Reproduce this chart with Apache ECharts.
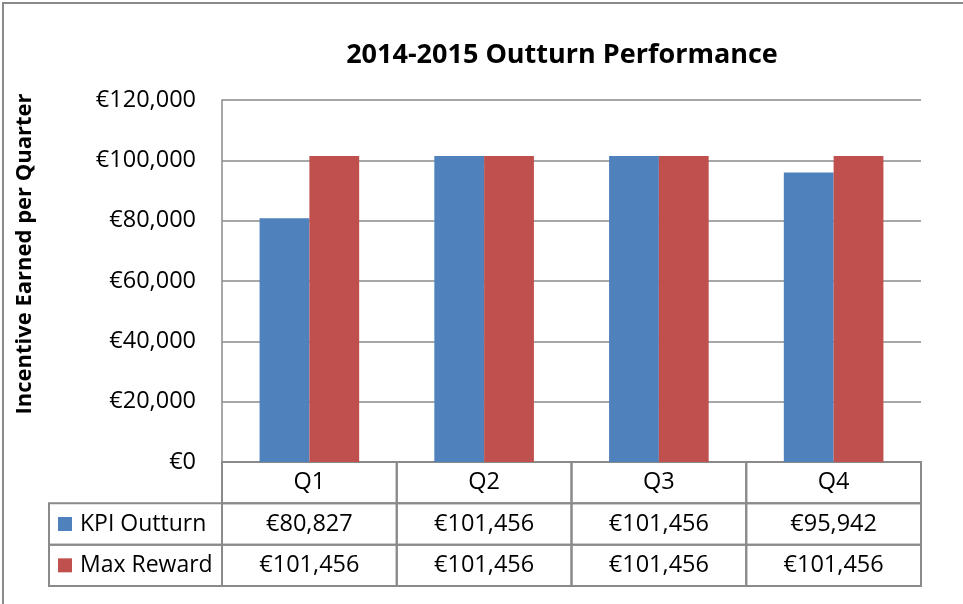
<!DOCTYPE html>
<html>
<head>
<meta charset="utf-8">
<script src="https://cdn.jsdelivr.net/npm/echarts@6/dist/echarts.min.js"></script>
<style>
  html, body { margin: 0; padding: 0; background: #fff; }
  #chart { width: 963px; height: 604px; }
</style>
</head>
<body>
<div id="chart"></div>
<script>
// Quarterly incentive: achieved vs. maximum possible, 2014-2015
const TITLE = "2014-2015 Outturn Performance";
const Y_NAME = "Incentive Earned per Quarter";
const QUARTERS = ["Q1", "Q2", "Q3", "Q4"];
const SERIES_NAMES = ["KPI Outturn", "Max Reward"];
const KPI_OUTTURN = [80827, 101456, 101456, 95942];
const MAX_REWARD = [101456, 101456, 101456, 101456];
const SERIES_COLORS = ["#4f81bd", "#c0504d"];
const Y_MIN = 0;
const Y_MAX = 120000;
const Y_STEP = 20000;

const FONT = "'Open Sans', 'Noto Sans', sans-serif";
const LINE = "#8a8a8a";
const euro = (v) => "€" + Math.round(v).toLocaleString("en-US");

// data table under the plot: row 0 = quarter headers, rows 1..2 = series values
const TABLE_ROWS = ["", ...SERIES_NAMES];
const seriesValues = [KPI_OUTTURN, MAX_REWARD];
const tableCells = [];
QUARTERS.forEach((q, ci) => tableCells.push({ value: [ci, 0], text: q }));
seriesValues.forEach((vals, si) => {
  vals.forEach((v, ci) => tableCells.push({ value: [ci, si + 1], text: euro(v) }));
});
const legendCells = SERIES_NAMES.map((name, si) => ({ value: [0, si + 1], text: name, color: SERIES_COLORS[si] }));

function cellRect(api) {
  const p = api.coord([api.value(0), api.value(1)]);
  const s = api.size([1, 1]);
  return { x: p[0] - s[0] / 2, y: p[1] - s[1] / 2, width: s[0], height: s[1] };
}

const ch = echarts.init(document.getElementById("chart"));

ch.setOption({
  backgroundColor: "#fff",
  animation: false,
  textStyle: { fontFamily: FONT },
  grid: [
    { left: 222, right: 42, top: 100, bottom: 142 },
    { left: 222, right: 42, top: 462, bottom: 18 },
    { left: 49, width: 173, top: 462, bottom: 18 },
  ],
  xAxis: [
    {
      type: "category",
      gridIndex: 0,
      data: QUARTERS,
      axisLine: { lineStyle: { color: LINE, width: 1.5 } },
      axisTick: { show: false },
      axisLabel: { show: false },
    },
    { type: "category", gridIndex: 1, data: QUARTERS, show: false },
    { type: "category", gridIndex: 2, data: [""], show: false },
  ],
  yAxis: [
    {
      type: "value",
      gridIndex: 0,
      min: Y_MIN,
      max: Y_MAX,
      interval: Y_STEP,
      axisLine: { show: true, lineStyle: { color: LINE, width: 1.5 } },
      axisTick: { show: false },
      splitLine: { lineStyle: { color: LINE, width: 1.5 } },
      axisLabel: {
        color: "#000",
        fontSize: 23.5,
        fontFamily: FONT,
        margin: 26,
        formatter: (v) => euro(v),
      },
    },
    { type: "category", gridIndex: 1, data: TABLE_ROWS, inverse: true, show: false },
    { type: "category", gridIndex: 2, data: TABLE_ROWS, inverse: true, show: false },
  ],
  graphic: [
    {
      type: "rect",
      shape: { x: 3, y: 3, width: 1200, height: 900 },
      style: { fill: "none", stroke: LINE, lineWidth: 2 },
      silent: true,
    },
    {
      type: "text",
      x: 562,
      y: 55,
      style: {
        text: TITLE,
        fill: "#000",
        font: "bold 27px " + FONT,
        textAlign: "center",
        textVerticalAlign: "middle",
      },
    },
    {
      type: "text",
      x: 25,
      y: 254,
      rotation: Math.PI / 2,
      style: {
        text: Y_NAME,
        fill: "#000",
        font: "bold 22px " + FONT,
        textAlign: "center",
        textVerticalAlign: "middle",
      },
    },
  ],
  series: [
    {
      name: SERIES_NAMES[0],
      type: "bar",
      xAxisIndex: 0,
      yAxisIndex: 0,
      data: KPI_OUTTURN,
      barWidth: "28.5%",
      barGap: "0%",
      itemStyle: { color: SERIES_COLORS[0] },
    },
    {
      name: SERIES_NAMES[1],
      type: "bar",
      xAxisIndex: 0,
      yAxisIndex: 0,
      data: MAX_REWARD,
      barWidth: "28.5%",
      barGap: "0%",
      itemStyle: { color: SERIES_COLORS[1] },
    },
    {
      type: "custom",
      xAxisIndex: 1,
      yAxisIndex: 1,
      data: tableCells,
      silent: true,
      renderItem: (params, api) => {
        const r = cellRect(api);
        return {
          type: "group",
          children: [
            { type: "rect", shape: r, style: { fill: "none", stroke: LINE, lineWidth: 2 } },
            {
              type: "text",
              x: r.x + r.width / 2,
              y: r.y + r.height / 2,
              style: {
                text: tableCells[params.dataIndex].text,
                fill: "#000",
                font: "23.5px " + FONT,
                textAlign: "center",
                textVerticalAlign: "middle",
              },
            },
          ],
        };
      },
    },
    {
      type: "custom",
      xAxisIndex: 2,
      yAxisIndex: 2,
      data: legendCells,
      silent: true,
      renderItem: (params, api) => {
        const r = cellRect(api);
        const cell = legendCells[params.dataIndex];
        return {
          type: "group",
          children: [
            { type: "rect", shape: r, style: { fill: "none", stroke: LINE, lineWidth: 2 } },
            {
              type: "rect",
              shape: { x: r.x + 9, y: r.y + r.height / 2 - 7, width: 14, height: 14 },
              style: { fill: cell.color },
            },
            {
              type: "text",
              x: r.x + 31,
              y: r.y + r.height / 2,
              style: {
                text: cell.text,
                fill: "#000",
                font: "23px " + FONT,
                textAlign: "left",
                textVerticalAlign: "middle",
              },
            },
          ],
        };
      },
    },
  ],
});
</script>
</body>
</html>
